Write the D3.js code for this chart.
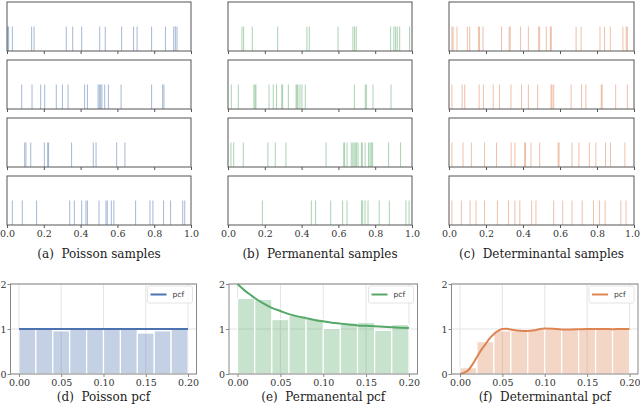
<!DOCTYPE html>
<html><head><meta charset="utf-8">
<script src="https://cdn.jsdelivr.net/npm/d3@7"></script>
<style>
body{margin:0;background:#fff;}
svg{display:block;}
text.cap{white-space:pre;}
</style></head>
<body><svg id="c" width="640" height="410"></svg>
<script>
// ---------- DATA ----------
const sampleTicks = [0, 0.2, 0.4, 0.6, 0.8, 1.0];
const pcfTicksX = [0, 0.05, 0.10, 0.15, 0.20];
const pcfTicksY = [0, 1, 2];

const poissonRows = [
  [0.004,0.009,0.029,0.134,0.147,0.322,0.357,0.406,0.504,0.534,0.623,0.688,0.707,0.786,0.861,0.906,0.915,0.924],
  [0.080,0.136,0.183,0.205,0.268,0.301,0.332,0.422,0.437,0.495,0.502,0.509,0.516,0.531,0.551,0.620,0.786,0.846,0.853],
  [0.096,0.103,0.129,0.203,0.221,0.226,0.351,0.469,0.484,0.596,0.641],
  [0.029,0.083,0.161,0.341,0.366,0.406,0.429,0.437,0.500,0.538,0.545,0.567,0.581,0.699,0.777,0.793,0.851,0.889,0.955,0.966]
];
const permanentalRows = [
  [0.076,0.085,0.132,0.270,0.429,0.442,0.598,0.679,0.688,0.697,0.884,0.902,0.911,0.920,0.933,0.987],
  [0.018,0.056,0.141,0.147,0.152,0.223,0.246,0.264,0.292,0.297,0.328,0.370,0.375,0.380,0.391,0.402,0.420,0.687,0.746,0.752,0.788,0.886],
  [0.016,0.031,0.083,0.217,0.257,0.315,0.533,0.629,0.634,0.647,0.670,0.678,0.685,0.692,0.699,0.707,0.725,0.730,0.745,0.764,0.772,0.779,0.786,0.873,0.938],
  [0.187,0.453,0.476,0.558,0.623,0.647,0.726,0.732,0.745,0.761,0.822,0.877,0.967,0.984]
];
const determinantalRows = [
  [0.016,0.022,0.043,0.099,0.112,0.159,0.165,0.184,0.284,0.325,0.331,0.387,0.429,0.485,0.490,0.526,0.548,0.553,0.687,0.714,0.816,0.841,0.872,0.940,0.958,0.964],
  [0.016,0.071,0.085,0.163,0.186,0.239,0.273,0.335,0.392,0.429,0.479,0.552,0.557,0.566,0.660,0.716,0.740,0.823,0.828,0.901,0.964],
  [0.016,0.076,0.121,0.192,0.257,0.336,0.356,0.409,0.414,0.443,0.490,0.590,0.595,0.665,0.702,0.759,0.794,0.846,0.873,0.951],
  [0.016,0.067,0.114,0.146,0.192,0.262,0.322,0.356,0.383,0.447,0.470,0.566,0.615,0.665,0.720,0.781,0.814,0.844,0.929,0.957]
];

const binStarts = [0,0.02,0.04,0.06,0.08,0.10,0.12,0.14,0.16,0.18];
const binWidth = 0.02;
const poissonHist = [1.00,1.00,0.96,1.01,1.00,1.00,1.00,0.91,0.96,1.00];
const permanentalHist = [1.68,1.66,1.21,1.30,1.22,1.01,1.13,1.15,0.97,1.10];
const determinantalHist = [0.14,0.72,0.96,0.96,0.985,1.00,1.00,0.99,1.00,1.00];

const poissonPcfX = [0, 0.2];
const poissonPcf = [1, 1];
const permanentalPcfX = [0,0.005,0.01,0.015,0.02,0.03,0.04,0.05,0.06,0.07,0.08,0.09,0.10,0.11,0.12,0.13,0.14,0.15,0.16,0.17,0.18,0.19,0.20];
const permanentalPcf = [2.0,1.91,1.83,1.76,1.69,1.57,1.47,1.40,1.33,1.28,1.24,1.20,1.17,1.14,1.12,1.10,1.08,1.07,1.06,1.05,1.04,1.03,1.02];
const determinantalPcfX = [0,0.005,0.01,0.015,0.02,0.025,0.03,0.035,0.04,0.045,0.05,0.055,0.06,0.07,0.08,0.09,0.10,0.11,0.12,0.13,0.14,0.15,0.16,0.17,0.18,0.19,0.20];
const determinantalPcf = [0,0.03,0.09,0.22,0.38,0.53,0.66,0.79,0.89,0.96,1.0,1.005,0.99,0.96,0.955,0.98,1.01,1.005,0.99,0.99,0.995,1.0,1.0,1.0,0.995,1.0,1.0];

const sampleCaptions = ["(a)  Poisson samples","(b)  Permanental samples","(c)  Determinantal samples"];
const pcfCaptions = ["(d)  Poisson pcf","(e)  Permanental pcf","(f)  Determinantal pcf"];
const colors = ["#4c72b0","#55a868","#dd8452"];

// ---------- LAYOUT ----------
const serif = "DejaVu Serif, serif";
const svg = d3.select("#c");
const topCols = [[7,191],[228,412],[449,634]];
const rowTops = [2,60,118,176];
const rowH = 49;
const botCols = [[10.5,196.5],[229,417.5],[451.5,638]];
const botTop = 284, botBottom = 374;

const allRows = [poissonRows, permanentalRows, determinantalRows];

allRows.forEach((rows, ci) => {
  const [x0, x1] = topCols[ci];
  const x = d3.scaleLinear().domain([0,1]).range([x0, x1]);
  rows.forEach((vals, ri) => {
    const top = rowTops[ri];
    const y = d3.scaleLinear().domain([0,2]).range([top+rowH, top]);
    const g = svg.append("g");
    g.selectAll("line.s").data(vals).join("line")
      .attr("x1", d => x(d)).attr("x2", d => x(d))
      .attr("y1", y(0)).attr("y2", y(1))
      .attr("stroke", colors[ci]).attr("stroke-opacity", 0.5).attr("stroke-width", 1);
    g.append("rect").attr("x", x0).attr("y", top).attr("width", x1-x0).attr("height", rowH)
      .attr("fill","none").attr("stroke","#555").attr("stroke-width",1);
    const ax = d3.axisBottom(x).tickValues(sampleTicks).tickSize(3).tickPadding(2)
      .tickFormat(ri === 3 ? d3.format(".1f") : "");
    const ag = g.append("g").attr("transform", `translate(0,${top+rowH})`).call(ax)
      .attr("font-family", serif).attr("font-size", 9.5);
    ag.select(".domain").remove();
    ag.selectAll(".tick line").attr("stroke","#555");
    ag.selectAll(".tick text").attr("fill","#333");
    if (ci === 2) ag.selectAll(".tick text").filter(d => d === 1).attr("dx", -2);
  });
  svg.append("text").attr("class","cap").attr("x", (x0+x1)/2).attr("y", 258).attr("text-anchor","middle")
    .attr("font-family",serif).attr("font-size", 12).attr("fill","#222")
    .text(sampleCaptions[ci]);
});

const hists = [poissonHist, permanentalHist, determinantalHist];
const pcfXs = [poissonPcfX, permanentalPcfX, determinantalPcfX];
const pcfYs = [poissonPcf, permanentalPcf, determinantalPcf];

hists.forEach((hist, ci) => {
  const [x0, x1] = botCols[ci];
  const x = d3.scaleLinear().domain([-0.01, 0.21]).range([x0, x1]);
  const y = d3.scaleLinear().domain([0, 2]).range([botBottom, botTop]);
  const g = svg.append("g");
  // grid
  g.selectAll("line.gx").data(pcfTicksX).join("line")
    .attr("x1", d=>x(d)).attr("x2", d=>x(d)).attr("y1", botTop).attr("y2", botBottom)
    .attr("stroke","#e3e3e3").attr("stroke-width",1);
  g.selectAll("line.gy").data(pcfTicksY).join("line")
    .attr("x1", x0).attr("x2", x1).attr("y1", d=>y(d)).attr("y2", d=>y(d))
    .attr("stroke","#e3e3e3").attr("stroke-width",1);
  // bars
  g.selectAll("rect.b").data(binStarts).join("rect")
    .attr("x", d => x(d)).attr("width", x(binWidth) - x(0))
    .attr("y", (d,i) => y(hist[i])).attr("height", (d,i) => y(0) - y(hist[i]))
    .attr("fill", colors[ci]).attr("fill-opacity", 0.33)
    .attr("stroke","#fff").attr("stroke-width",1.2);
  // curve
  const line = d3.line().x((d,i) => x(pcfXs[ci][i])).y(d => y(d)).curve(d3.curveMonotoneX);
  g.append("path").attr("d", line(pcfYs[ci])).attr("fill","none")
    .attr("stroke", colors[ci]).attr("stroke-width", 2);
  // frame
  g.append("rect").attr("x", x0).attr("y", botTop).attr("width", x1-x0).attr("height", botBottom-botTop)
    .attr("fill","none").attr("stroke","#888").attr("stroke-width",1);
  // axes
  const ax = d3.axisBottom(x).tickValues(pcfTicksX).tickSize(3).tickPadding(2).tickFormat(d3.format(".2f"));
  const ag = g.append("g").attr("transform", `translate(0,${botBottom})`).call(ax)
    .attr("font-family", serif).attr("font-size", 9.5);
  ag.select(".domain").remove();
  ag.selectAll(".tick line").attr("stroke","#888");
  ag.selectAll(".tick text").attr("fill","#333");
  const ay = d3.axisLeft(y).tickValues(pcfTicksY).tickSize(3).tickPadding(1).tickFormat(d3.format("d"));
  const yg = g.append("g").attr("transform", `translate(${x0},0)`).call(ay)
    .attr("font-family", serif).attr("font-size", 9.5);
  yg.select(".domain").remove();
  yg.selectAll(".tick line").attr("stroke","#888");
  yg.selectAll(".tick text").attr("fill","#333");
  // legend
  const lw = 45, lh = 17;
  const lx = x1 - 4 - lw, ly = botTop + 2;
  g.append("rect").attr("x", lx).attr("y", ly).attr("width", lw).attr("height", lh).attr("rx", 2)
    .attr("fill","#fff").attr("fill-opacity",0.8).attr("stroke","#ddd").attr("stroke-width",0.8);
  g.append("line").attr("x1", lx+3).attr("x2", lx+19).attr("y1", ly+lh/2).attr("y2", ly+lh/2)
    .attr("stroke", colors[ci]).attr("stroke-width", 2);
  g.append("text").attr("x", lx+25).attr("y", ly+lh/2+2.5).attr("font-family","DejaVu Sans, sans-serif")
    .attr("font-size", 7.5).attr("fill","#333").text("pcf");
  svg.append("text").attr("class","cap").attr("x", (x0+x1)/2).attr("y", 401).attr("text-anchor","middle")
    .attr("font-family",serif).attr("font-size", 12).attr("fill","#222")
    .text(pcfCaptions[ci]);
});
</script></body></html>
